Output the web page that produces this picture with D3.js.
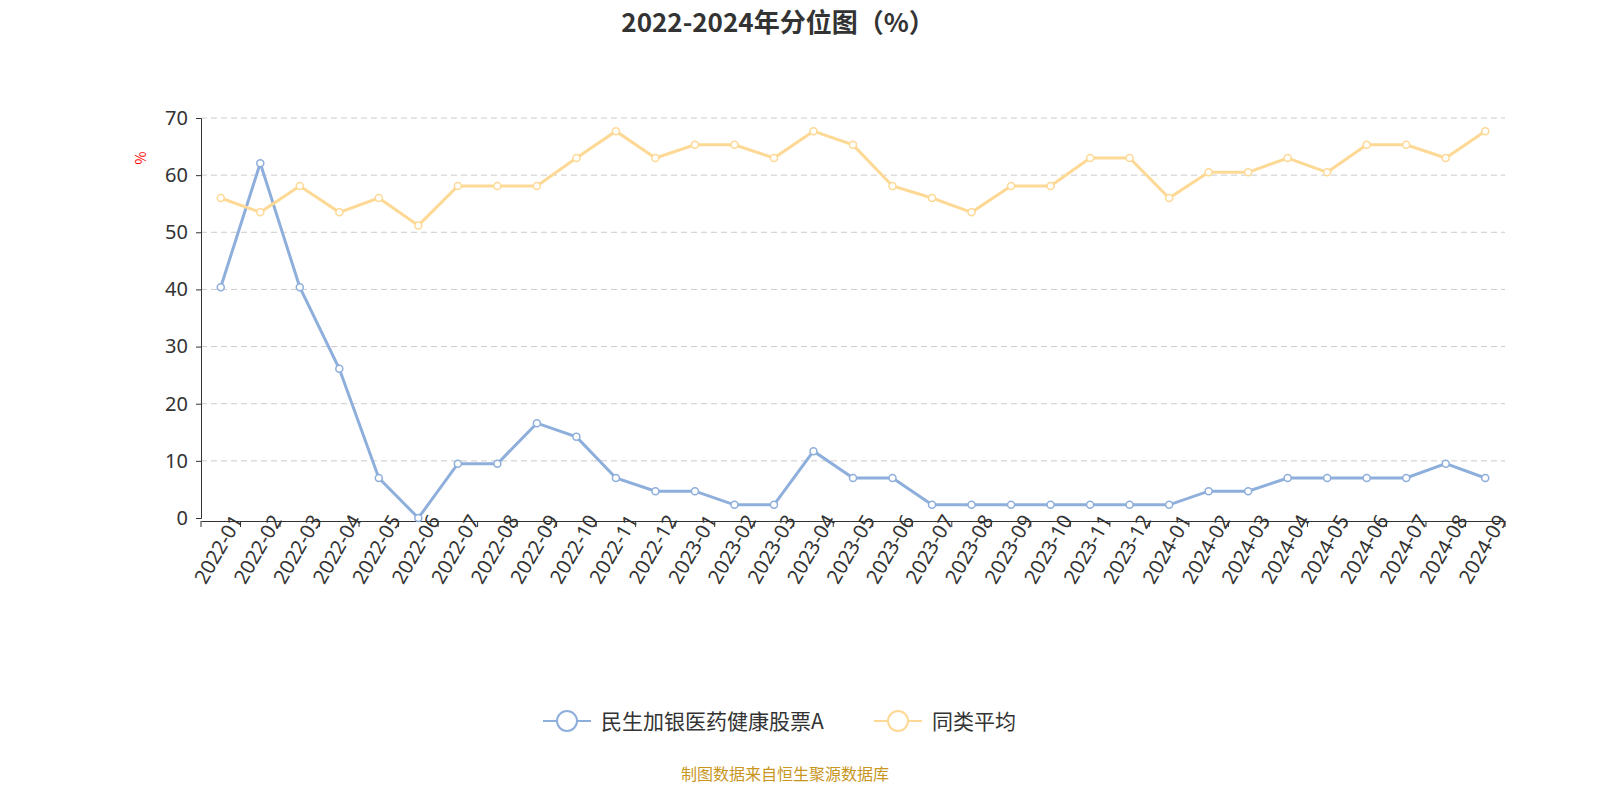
<!DOCTYPE html>
<html><head><meta charset="utf-8">
<script src="https://cdn.jsdelivr.net/npm/d3@7"></script>
<style>
body{margin:0;background:#fff;font-family:"Noto Sans CJK SC","Noto Sans",sans-serif;}
</style></head>
<body><svg id="chart" width="1600" height="800"></svg>
<script>
const months = [
  "2022-01","2022-02","2022-03","2022-04","2022-05","2022-06","2022-07","2022-08","2022-09","2022-10","2022-11","2022-12",
  "2023-01","2023-02","2023-03","2023-04","2023-05","2023-06","2023-07","2023-08","2023-09","2023-10","2023-11","2023-12",
  "2024-01","2024-02","2024-03","2024-04","2024-05","2024-06","2024-07","2024-08","2024-09"
];
const fundValues = [40.4,62.1,40.4,26.1,7.0,0,9.5,9.5,16.6,14.2,7.0,4.7,4.7,2.3,2.3,11.7,7.0,7.0,2.3,2.3,2.3,2.3,2.3,2.3,2.3,4.7,4.7,7.0,7.0,7.0,7.0,9.5,7.0];
const avgValues = [56,53.5,58.1,53.5,56,51.2,58.1,58.1,58.1,63,67.7,63,65.3,65.3,63,67.7,65.3,58.1,56,53.5,58.1,58.1,63,63,56,60.5,60.5,63,60.5,65.3,65.3,63,67.7];
const yTicks = [0,10,20,30,40,50,60,70];
const seriesNames = ["民生加银医药健康股票A","同类平均"];
const seriesColors = ["#8eaedb","#fdd995"];

const svg = d3.select("#chart");
const plotLeft = 201, plotRight = 1505, plotTop = 118, plotBottom = 518;

const x = d3.scaleBand().domain(months).range([plotLeft, plotRight]);
const y = d3.scaleLinear().domain([0, 70]).range([plotBottom, plotTop]);

svg.append("text").attr("x", 778).attr("y", 32).attr("text-anchor", "middle")
  .attr("font-size", 26).attr("font-weight", "bold").attr("fill", "#333")
  .text("2022-2024年分位图（%）");

// 网格
svg.append("g").selectAll("line").data(yTicks.slice(1)).enter().append("line")
  .attr("x1", plotLeft).attr("x2", plotRight).attr("y1", d => y(d)).attr("y2", d => y(d))
  .attr("stroke", "#ccc").attr("stroke-dasharray", "6,4");

// y 轴
const ya = svg.append("g").attr("transform", `translate(${plotLeft},0)`)
  .call(d3.axisLeft(y).tickValues(yTicks).tickSize(5).tickPadding(8));
ya.select(".domain").attr("stroke", "#333");
ya.selectAll("line").attr("stroke", "#333");
ya.selectAll("text").attr("font-size", 20).attr("fill", "#333").attr("font-family", "Noto Sans, sans-serif");

svg.append("text").attr("transform", "translate(146,158) rotate(-90)")
  .attr("text-anchor", "middle").attr("fill", "red").attr("font-size", 14).text("%");

// x 轴
const xa = svg.append("g").attr("transform", `translate(0,${plotBottom + 3})`)
  .call(d3.axisBottom(x).tickSize(6).tickSizeOuter(0));
xa.selectAll(".tick line").attr("transform", `translate(${-x.bandwidth()/2},0)`);
xa.append("line").attr("x1", plotRight).attr("x2", plotRight).attr("y1", 0).attr("y2", 6).attr("stroke", "#333");
xa.select(".domain").attr("stroke", "#333");
xa.selectAll("line").attr("stroke", "#333");
xa.selectAll("text").attr("font-size", 20).attr("fill", "#333").attr("font-family", "Noto Sans, sans-serif")
  .attr("text-anchor", "end").attr("dx", "0.6em").attr("dy", "0.5em")
  .attr("transform", "rotate(-60)");

const line = d3.line().x((d, i) => x(months[i]) + x.bandwidth() / 2).y(d => y(d));
[fundValues, avgValues].forEach((vals, k) => {
  svg.append("path").datum(vals).attr("d", line).attr("fill", "none")
    .attr("stroke", seriesColors[k]).attr("stroke-width", 3);
  svg.append("g").selectAll("circle").data(vals).enter().append("circle")
    .attr("cx", (d, i) => x(months[i]) + x.bandwidth() / 2).attr("cy", d => y(d))
    .attr("r", 3.5).attr("fill", "#fff").attr("stroke", seriesColors[k]).attr("stroke-width", 1.5);
});

// 图例
const legendX = [543, 874];
seriesNames.forEach((n, k) => {
  const g = svg.append("g").attr("transform", `translate(${legendX[k]},721)`);
  g.append("line").attr("x1", 0).attr("x2", 48).attr("stroke", seriesColors[k]).attr("stroke-width", 2);
  g.append("circle").attr("cx", 24).attr("r", 10).attr("fill", "#fff").attr("stroke", seriesColors[k]).attr("stroke-width", 2);
  g.append("text").attr("x", 58).attr("y", 8).attr("font-size", 21).attr("fill", "#333").text(n);
});

svg.append("text").attr("x", 785).attr("y", 780).attr("text-anchor", "middle")
  .attr("font-size", 16).attr("fill", "#c8961e").text("制图数据来自恒生聚源数据库");
</script></body></html>
